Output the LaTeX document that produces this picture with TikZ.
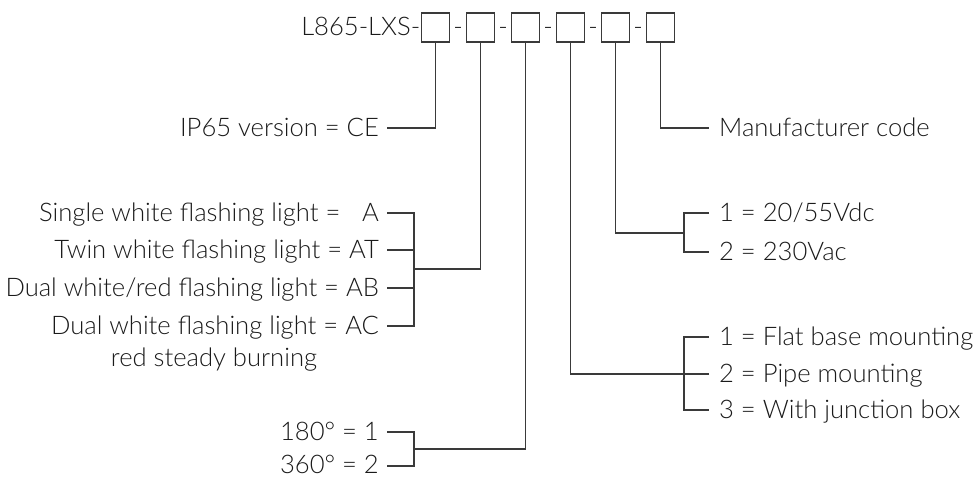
\documentclass[tikz,border=0pt]{standalone}
\usepackage{fontspec}
\setmainfont{Lato}[UprightFont={* Light}]
\definecolor{lc}{HTML}{3A3A3A}
\definecolor{tc}{HTML}{1A1A1A}
\newcommand\dgfont{\fontsize{25.6pt}{30pt}\selectfont}
\begin{document}
\begin{tikzpicture}[x=1pt,y=-1pt,
  ln/.style={draw=lc, line width=1.2pt},
  bx/.style={draw=lc, line width=1.2pt, minimum width=28pt, minimum height=29pt, inner sep=0pt},
  lt/.style={anchor=base east, inner sep=0pt, text=tc, font=\dgfont},
  rt/.style={anchor=base west, inner sep=0pt, text=tc, font=\dgfont},
  ct/.style={anchor=base, inner sep=0pt, text=tc, font=\dgfont}]
\useasboundingbox (0,0) rectangle (977,477);
% code boxes
\foreach \i in {1,...,6} {
  \node[bx] (b\i) at ({435.5+45*(\i-1)},27.5) {};
}
\node[lt] (code) at (420.5,35) {L865-LXS-};
\foreach \i in {1,...,5} {
  \node[ct] (d\i) at ({458+45*(\i-1)},35) {-};
}
% left texts
\node[lt] (ip) at (379,136.5) {IP65 version = CE};
\node[lt] (a1) at (379,221.5) {Single white flashing light = \phantom{T}A};
\node[lt] (a2) at (379,258.5) {Twin white flashing light = AT};
\node[lt] (a3) at (379,296.5) {Dual white/red flashing light = AB};
\node[lt] (a4) at (379,334.5) {Dual white flashing light = AC};
\node[ct] (a5) at (214,366) {red steady burning};
\node[lt] (g1) at (379,440.5) {180° = 1};
\node[lt] (g2) at (379,473.5) {360° = 2};
% right texts
\node[rt] (mc) at (719,136.5) {Manufacturer code};
\node[rt] (v1) at (719,221.5) {1 = 20/55Vdc};
\node[rt] (v2) at (719,260.5) {2 = 230Vac};
\node[rt] (m1) at (719,345.5) {1 = Flat base mounting};
\node[rt] (m2) at (719,382.5) {2 = Pipe mounting};
\node[rt] (m3) at (719,418.5) {3 = With junction box};
% tick coordinates
\coordinate (ipt) at (387,128);
\coordinate (a1t) at (387,213);
\coordinate (a2t) at (387,250);
\coordinate (a3t) at (387,288);
\coordinate (a4t) at (387,326);
\coordinate (g1t) at (387,432);
\coordinate (g2t) at (387,466);
\coordinate (mct) at (709,128);
\coordinate (v1t) at (709,213);
\coordinate (v2t) at (709,252);
\coordinate (m1t) at (709,337);
\coordinate (m2t) at (709,374);
\coordinate (m3t) at (709,410);
% junctions
\coordinate (jA) at (414,269);
\coordinate (jG) at (414,449);
\coordinate (jV) at (684,233);
\coordinate (jM) at (684,374);
% connectors
\draw[ln] (b1.south) |- (ipt);
\draw[ln] (b6.south) |- (mct);
\draw[ln] (b2.south) |- (jA);
\draw[ln] (a1t) -- (a1t -| jA) -- (a4t -| jA) -- (a4t);
\draw[ln] (a2t) -- (a2t -| jA);
\draw[ln] (a3t) -- (a3t -| jA);
\draw[ln] (b3.south) |- (jG);
\draw[ln] (g1t) -- (g1t -| jG) -- (g2t -| jG) -- (g2t);
\draw[ln] (b5.south) |- (jV);
\draw[ln] (v1t) -- (v1t -| jV) -- (v2t -| jV) -- (v2t);
\draw[ln] (b4.south) |- (jM);
\draw[ln] (m1t) -- (m1t -| jM) -- (m3t -| jM) -- (m3t);
\draw[ln] (m2t) -- (m2t -| jM);
\end{tikzpicture}
\end{document}
